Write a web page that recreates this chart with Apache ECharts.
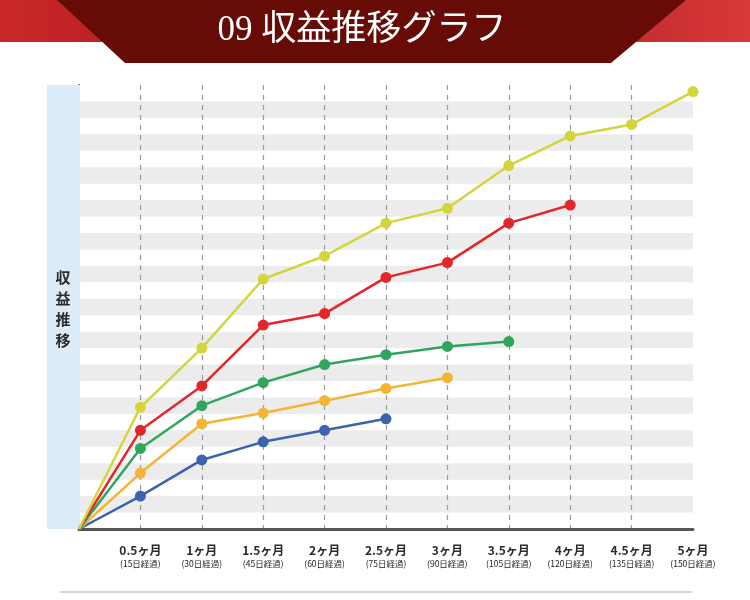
<!DOCTYPE html>
<html lang="ja">
<head>
    <meta charset="UTF-8">
    <title>09 収益推移グラフ</title>
    <script src="https://cdn.jsdelivr.net/npm/echarts@6/dist/echarts.min.js"></script>
    <style>
        html, body { margin: 0; padding: 0; background: #fff; }
        #main { width: 750px; height: 600px; }
    </style>
</head>
<body>

<div id="main"></div>
<script type="text/javascript">

    // 経過月 (x軸)
    var months = [0, 0.5, 1, 1.5, 2, 2.5, 3, 3.5, 4, 4.5, 5];
    var monthLabels = ['', '0.5ヶ月', '1ヶ月', '1.5ヶ月', '2ヶ月', '2.5ヶ月', '3ヶ月', '3.5ヶ月', '4ヶ月', '4.5ヶ月', '5ヶ月'];
    var dayLabels = ['', '(15日経過)', '(30日経過)', '(45日経過)', '(60日経過)', '(75日経過)', '(90日経過)', '(105日経過)', '(120日経過)', '(135日経過)', '(150日経過)'];

    // 収益 (目盛りなし、読み取り値)
    var yellowVals = [0, 74, 110, 152, 166, 186, 195, 221, 239, 246, 266];
    var redVals    = [0, 60, 87, 124, 131, 153, 162, 186, 197];
    var greenVals  = [0, 49, 75, 89, 100, 106, 111, 114];
    var orangeVals = [0, 34, 64, 70.5, 78, 85.5, 92];
    var blueVals   = [0, 20, 42, 53, 60, 67];

    function toData(vals) {
        return vals.map(function (v, i) {
            if (i === 0) {
                return { value: [months[i], v], symbol: 'none' };
            }
            return [months[i], v];
        });
    }

    function makeSeries(vals, color) {
        return {
            type: 'line',
            data: toData(vals),
            symbol: 'circle',
            symbolSize: 11,
            lineStyle: { color: color, width: 2.5 },
            itemStyle: { color: color },
            emphasis: { disabled: true }
        };
    }

    var option = {
        animation: false,
        backgroundColor: '#fff',
        grid: { left: 79, right: 57, top: 85, bottom: 71 },
        graphic: [
            // 上部の赤い帯
            {
                type: 'rect', z: 1,
                shape: { x: 0, y: 0, width: 750, height: 42 },
                style: {
                    fill: new echarts.graphic.LinearGradient(0, 0, 1, 1, [
                        { offset: 0, color: '#c9282a' },
                        { offset: 0.5, color: '#9c1214' },
                        { offset: 1, color: '#d8393a' }
                    ])
                }
            },
            // タイトル台形
            {
                type: 'polygon', z: 2,
                shape: { points: [[57, 0], [686, 0], [611, 63], [125, 63]] },
                style: { fill: '#670b06' }
            },
            {
                type: 'text', z: 3,
                x: 362, y: 31,
                style: {
                    text: '09 収益推移グラフ',
                    fill: '#fff',
                    align: 'center',
                    verticalAlign: 'middle',
                    font: '35px "Liberation Serif", "Noto Sans CJK JP", serif'
                }
            },
            // y軸ラベルの青い帯
            {
                type: 'rect', z: 1,
                shape: { x: 47, y: 85, width: 33, height: 444 },
                style: { fill: '#dcebf8' }
            },
            {
                type: 'text', z: 3,
                x: 63, y: 309,
                style: {
                    text: '収\n益\n推\n移',
                    fill: '#2b2b2b',
                    align: 'center',
                    verticalAlign: 'middle',
                    lineHeight: 21,
                    font: 'bold 15px "Noto Sans CJK JP", sans-serif'
                }
            },
            // 下の区切り線
            {
                type: 'line', z: 1,
                shape: { x1: 60, y1: 592, x2: 692, y2: 592 },
                style: { stroke: '#c9c9c9', lineWidth: 1.5 }
            }
        ],
        xAxis: {
            type: 'value',
            min: 0,
            max: 5,
            interval: 0.5,
            axisLine: { show: true, onZero: false, lineStyle: { color: '#555', width: 3 } },
            axisTick: { show: false },
            splitLine: {
                show: true,
                showMinLine: false,
                showMaxLine: false,
                lineStyle: { color: '#9a9a9a', type: [5, 5], width: 1.2 }
            },
            axisLabel: {
                margin: 14,
                formatter: function (value) {
                    var i = months.indexOf(value);
                    if (i <= 0) return '';
                    return '{m|' + monthLabels[i] + '}\n{d|' + dayLabels[i] + '}';
                },
                rich: {
                    m: {
                        fontFamily: 'Noto Sans CJK JP',
                        fontSize: 12,
                        fontWeight: 'bold',
                        color: '#2b2b2b',
                        lineHeight: 15
                    },
                    d: {
                        fontFamily: 'Noto Sans CJK JP',
                        fontSize: 8.5,
                        color: '#222',
                        lineHeight: 11
                    }
                }
            }
        },
        yAxis: {
            type: 'value',
            min: 0,
            max: 270,
            interval: 10,
            axisLine: { show: true, lineStyle: { color: '#555', width: 2 } },
            axisTick: { show: false },
            axisLabel: { show: false },
            splitLine: { show: false },
            splitArea: {
                show: true,
                areaStyle: { color: ['rgba(255,255,255,0)', '#ececec'] }
            }
        },
        series: [
            makeSeries(blueVals, '#3d63ae'),
            makeSeries(orangeVals, '#f2b534'),
            makeSeries(greenVals, '#2fa65c'),
            makeSeries(redVals, '#e3262b'),
            makeSeries(yellowVals, '#d4d43c')
        ]
    };

    var myChart = echarts.init(document.getElementById('main'));
    myChart.setOption(option);

</script>

</body>
</html>
